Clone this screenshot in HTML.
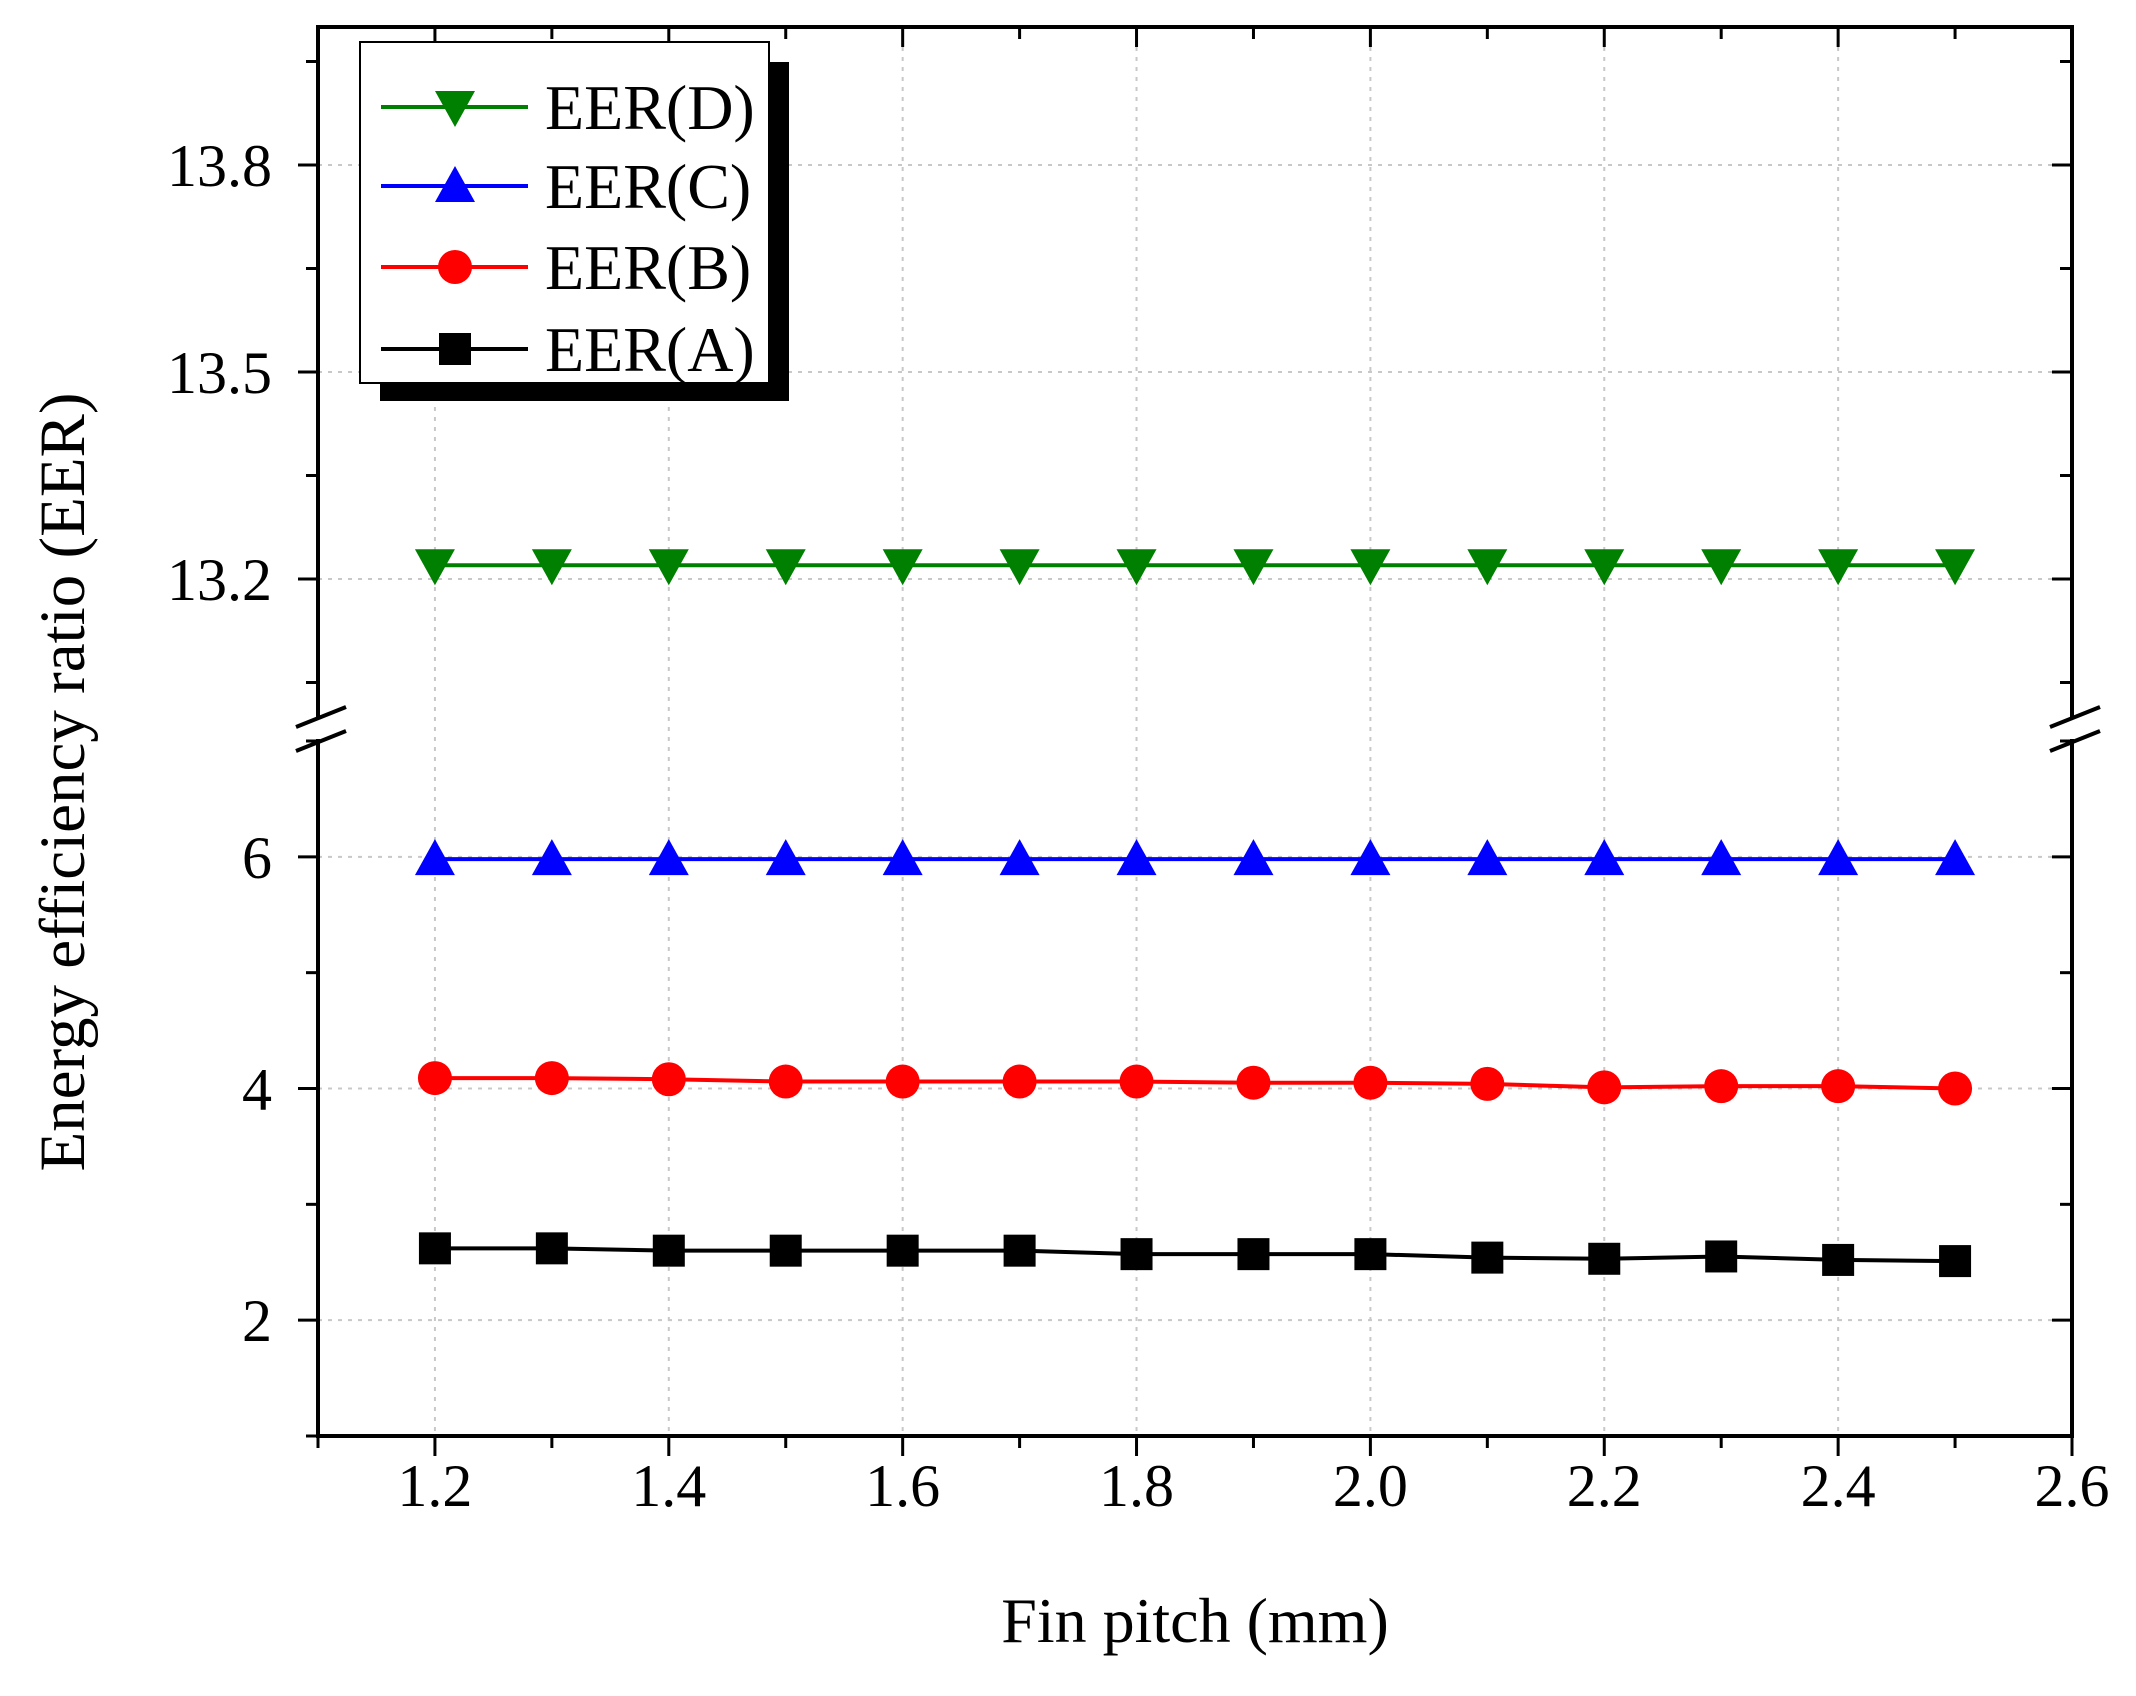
<!DOCTYPE html>
<html><head><meta charset="utf-8">
<style>
html,body{margin:0;padding:0;background:#fff;}
svg{display:block;font-family:"Liberation Serif",serif;}
</style></head>
<body>
<svg id="chart" width="2136" height="1696" viewBox="0 0 2136 1696" xmlns="http://www.w3.org/2000/svg">
<g id="grid"></g>
<g id="axes"></g>
<g id="series"></g>
<g id="legend"></g>
<text x="1195" y="1642" font-size="64" text-anchor="middle">Fin pitch (mm)</text>
<text transform="translate(84,782) rotate(-90)" font-size="65" text-anchor="middle">Energy efficiency ratio (EER)</text>
</svg>
<script>
const xValues = [1.2,1.3,1.4,1.5,1.6,1.7,1.8,1.9,2.0,2.1,2.2,2.3,2.4,2.5];
const seriesA = [2.62,2.62,2.60,2.60,2.60,2.60,2.57,2.57,2.57,2.54,2.53,2.55,2.52,2.51];
const seriesB = [4.09,4.09,4.08,4.06,4.06,4.06,4.06,4.05,4.05,4.04,4.01,4.02,4.02,4.00];
const seriesC = [5.98,5.98,5.98,5.98,5.98,5.98,5.98,5.98,5.98,5.98,5.98,5.98,5.98,5.98];
const seriesD = [13.22,13.22,13.22,13.22,13.22,13.22,13.22,13.22,13.22,13.22,13.22,13.22,13.22,13.22];
const xTicks = [1.2,1.4,1.6,1.8,2.0,2.2,2.4,2.6];
const xTickLabels = ["1.2","1.4","1.6","1.8","2.0","2.2","2.4","2.6"];
const yLowTicks = [2,4,6];
const yLowTickLabels = ["2","4","6"];
const yHighTicks = [13.2,13.5,13.8];
const yHighTickLabels = ["13.2","13.5","13.8"];

const NS="http://www.w3.org/2000/svg";
const L=318,R=2072,T=27,B=1436;
const LOW_TOP=741, HIGH_BOT=717;
function xs(v){return L+(v-1.1)/(2.6-1.1)*(R-L);}
function ys(v){
  if(v<=7) return B-(v-1)/6*(B-LOW_TOP);
  return HIGH_BOT-(v-13)/1*(HIGH_BOT-T);
}
function mk(tag,attrs,parent){const e=document.createElementNS(NS,tag);for(const k in attrs)e.setAttribute(k,attrs[k]);parent.appendChild(e);return e;}
const grid=document.getElementById('grid'),axes=document.getElementById('axes'),ser=document.getElementById('series'),leg=document.getElementById('legend');

xTicks.forEach(v=>{if(v<2.6){const g=mk('line',{x1:xs(v),x2:xs(v),y1:T,y2:B,stroke:'#c8c8c8','stroke-width':2,'stroke-dasharray':'4 6'},grid);

}});
yLowTicks.concat(yHighTicks).forEach(v=>{const g=mk('line',{x1:L,x2:R,y1:ys(v),y2:ys(v),stroke:'#c8c8c8','stroke-width':2,'stroke-dasharray':'4 6'},grid);

});

const ax=[[L,T,L,HIGH_BOT+2],[L,LOW_TOP-2,L,B],[R,T,R,HIGH_BOT+2],[R,LOW_TOP-2,R,B],[L-2,B,R+2,B],[L-2,T,R+2,T]];
ax.forEach(a=>{const e=mk('line',{x1:a[0],y1:a[1],x2:a[2],y2:a[3],stroke:'#000','stroke-width':4},axes);

});
[L,R].forEach(x=>{[HIGH_BOT,LOW_TOP].forEach(b=>{const e=mk('line',{x1:x-22,y1:b+10,x2:x+28,y2:b-10,stroke:'#000','stroke-width':4},axes);

});});

for(let v=1.1;v<=2.601;v+=0.1){const major=Math.abs(Math.round(v*10)%2)===0;const len=major?20:12;const x=xs(v);
mk('line',{x1:x,x2:x,y1:B,y2:B+len,stroke:'#000','stroke-width':3},axes);
mk('line',{x1:x,x2:x,y1:T,y2:T+len,stroke:'#000','stroke-width':3},axes);}
xTicks.forEach((v,i)=>{const t=mk('text',{x:xs(v),y:B+70,'font-size':60,'text-anchor':'middle'},axes);t.textContent=xTickLabels[i];

});
function yt(v,major){const y=ys(v);const len=major?20:12;
mk('line',{x1:L-len,x2:L,y1:y,y2:y,stroke:'#000','stroke-width':3},axes);
mk('line',{x1:R-len,x2:R,y1:y,y2:y,stroke:'#000','stroke-width':3},axes);}
for(let v=1;v<=7;v++)yt(v,v%2===0);
[13.05,13.2,13.35,13.5,13.65,13.8,13.95].forEach((v,i)=>yt(v,i%2===1));
yLowTicks.forEach((v,i)=>{const t=mk('text',{x:L-46,y:ys(v)+21,'font-size':60,'text-anchor':'end'},axes);t.textContent=yLowTickLabels[i];

});
yHighTicks.forEach((v,i)=>{const t=mk('text',{x:L-46,y:ys(v)+21,'font-size':60,'text-anchor':'end'},axes);t.textContent=yHighTickLabels[i];

});

function marker(type,x,y,color,parent){
  const s=17;
  if(type==='sq') return mk('rect',{x:x-s+1,y:y-s+1,width:2*s-2,height:2*s-2,fill:color},parent);
  if(type==='ci') return mk('circle',{cx:x,cy:y,r:s,fill:color},parent);
  if(type==='up') return mk('polygon',{points:`${x},${y-s-3} ${x-s-3},${y+s-1} ${x+s+3},${y+s-1}`,fill:color},parent);
  return mk('polygon',{points:`${x},${y+s+3} ${x-s-3},${y-s+1} ${x+s+3},${y-s+1}`,fill:color},parent);
}
const defs=[['series-a',seriesA,'#000','sq'],['series-b',seriesB,'#ff0000','ci'],['series-c',seriesC,'#0000ff','up'],['series-d',seriesD,'#008000','dn']];
defs.forEach(d=>{const g=mk('g',{},ser);


const p=mk('polyline',{points:xValues.map((x,i)=>xs(x)+','+ys(d[1][i])).join(' '),fill:'none',stroke:d[2],'stroke-width':4},g);


xValues.forEach((x,i)=>{const m=marker(d[3],xs(x),ys(d[1][i]),d[2],g);

});});

mk('rect',{x:380,y:62,width:409,height:339,fill:'#000'},leg);
const box=mk('rect',{x:360,y:42,width:409,height:341,fill:'#fff',stroke:'#000','stroke-width':2},leg);


const items=[['EER(D)','#008000','dn',107],['EER(C)','#0000ff','up',186],['EER(B)','#ff0000','ci',267],['EER(A)','#000','sq',349]];
items.forEach(it=>{const g=mk('g',{},leg);


mk('line',{x1:381,x2:528,y1:it[3],y2:it[3],stroke:it[1],'stroke-width':4},g);
marker(it[2],455,it[3],it[1],g);
const t=mk('text',{x:545,y:it[3]+22,'font-size':64},g);t.textContent=it[0];});
</script>
</body></html>
